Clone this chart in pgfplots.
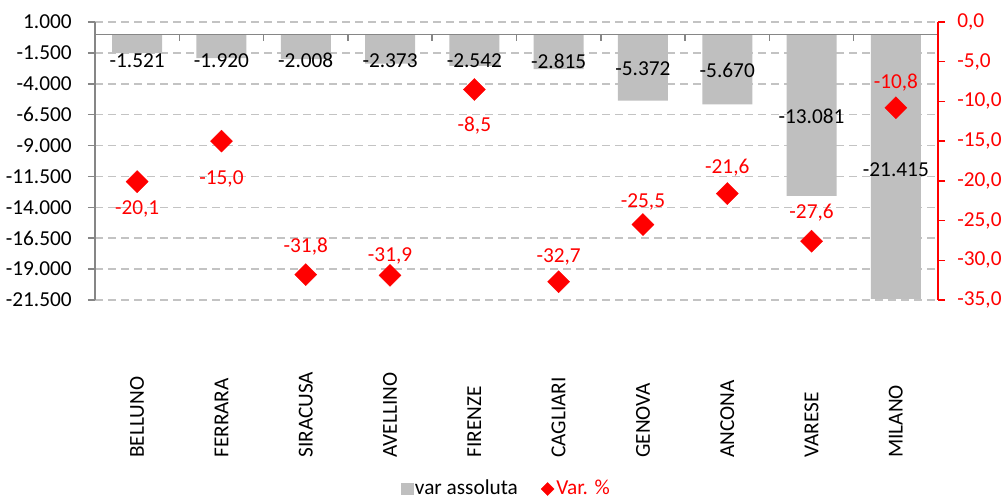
\documentclass[border=0pt]{standalone}
\usepackage{pgfplots}
\pgfplotsset{compat=1.18}
\usepackage{pgfplotstable}
\usepackage{fontspec}
\setmainfont{Carlito}
\definecolor{barc}{RGB}{191,191,191}
\definecolor{gridc}{RGB}{195,195,195}
\definecolor{axc}{RGB}{134,134,134}
\definecolor{myred}{RGB}{255,0,0}

\pgfplotstableread{
x  v      ly
0  -1521  -2150
1  -1920  -2150
2  -2008  -2100
3  -2373  -2150
4  -2542  -2150
5  -2815  -2150
6  -5372  -2760
7  -5670  -2920
8  -13081 -6645
9  -21415 -10934
}\bars
\pgfplotstableread{
x v ly
0 -20.1 -23.5
1 -15.0 -19.7
2 -31.8 -28.3
3 -31.9 -29.5
4 -8.5 -13.1
5 -32.7 -29.6
6 -25.5 -22.7
7 -21.6 -18.3
8 -27.6 -24.0
9 -10.8 -7.6
}\pct

\begin{document}
\fontsize{21.3}{25}\selectfont
\begin{tikzpicture}
\useasboundingbox (0,0) rectangle (1004pt,500pt);
\begin{axis}[
  at={(95pt,200pt)}, anchor=south west, scale only axis,
  width=843pt, height=278pt,
  xmin=-0.5, xmax=9.5, ymin=-21500, ymax=1000,
  axis y line*=left, axis x line*=bottom,
  x axis line style={draw=none},
  y axis line style={draw=axc, line width=1.5pt},
  ytick={-21500,-19000,-16500,-14000,-11500,-9000,-6500,-4000,-1500,1000},
  scaled y ticks=false,
  ytick align=outside, ytick style={draw=axc, line width=1.5pt},
  yticklabel style={xshift=-9pt},
  major tick length=7pt,
  ymajorgrids, grid style={draw=gridc, line width=1.5pt, dash pattern=on 8pt off 5pt},
  xtick={0,...,9}, xtick style={draw=none},
  xticklabels={BELLUNO,FERRARA,SIRACUSA,AVELLINO,FIRENZE,CAGLIARI,GENOVA,ANCONA,VARESE,MILANO},
  xticklabel style={rotate=90, anchor=west},
  xticklabel shift=165pt,
  /pgf/number format/fixed, /pgf/number format/1000 sep={.},
  /pgf/number format/assume math mode=true,
  clip=false,
]
\addplot[ybar, bar width=50pt, bar shift=0pt, fill=barc, draw=none] table[x=x,y=v]{\bars};
\addplot[draw=none, mark=none, point meta=\thisrow{v},
  nodes near coords={\pgfmathprintnumber[fixed,1000 sep={.},assume math mode=true]{\pgfplotspointmeta}},
  every node near coord/.append style={anchor=center, text=black}]
  table[x=x,y=ly]{\bars};
\draw[axc, line width=1.5pt] (axis cs:-0.5,0) -- (axis cs:9.5,0);
\pgfplotsinvokeforeach{0.5,1.5,2.5,3.5,4.5,5.5,6.5,7.5,8.5}{
  \draw[axc, line width=1.5pt] (axis cs:#1,0) -- ++(0pt,-7pt);
}
\end{axis}
\begin{axis}[
  at={(95pt,200pt)}, anchor=south west, scale only axis,
  width=843pt, height=278pt,
  xmin=-0.5, xmax=9.5, ymin=-35, ymax=0,
  axis y line*=right, axis x line=none,
  y axis line style={draw=myred, line width=1.5pt},
  ytick={-35,-30,-25,-20,-15,-10,-5,0},
  ytick align=outside, ytick style={draw=myred, line width=1.5pt},
  major tick length=7pt,
  yticklabel style={text=myred, xshift=5pt},
  /pgf/number format/fixed, /pgf/number format/fixed zerofill,
  /pgf/number format/precision=1, /pgf/number format/use comma,
  /pgf/number format/assume math mode=true,
  clip=false,
  legend columns=2,
  legend style={draw=none, fill=none, at={(0.488,-0.68)}, anchor=center,
    /tikz/every even column/.append style={column sep=21pt},
    font=\fontsize{21.3}{25}\selectfont},
]
\addlegendimage{legend image code/.code={\fill[barc] (0pt,-5.5pt) rectangle (11.5pt,5.5pt);}}
\addlegendentry{var assoluta}
\addplot[only marks, color=myred, mark=square*, mark size=7.8pt,
  mark options={rotate=45, fill=myred, draw=myred},
  legend image code/.code={\fill[myred] (4pt,0pt) -- (10.5pt,6.5pt) -- (17pt,0pt) -- (10.5pt,-6.5pt) -- cycle;}]
  table[x=x,y=v]{\pct};
\addlegendentry{\textcolor{myred}{Var. \%}}
\addplot[draw=none, mark=none, point meta=\thisrow{v},
  nodes near coords={\pgfmathprintnumber[fixed,fixed zerofill,precision=1,use comma,assume math mode=true]{\pgfplotspointmeta}},
  every node near coord/.append style={anchor=center, text=myred}, forget plot]
  table[x=x,y=ly]{\pct};
\end{axis}
\end{tikzpicture}
\end{document}
